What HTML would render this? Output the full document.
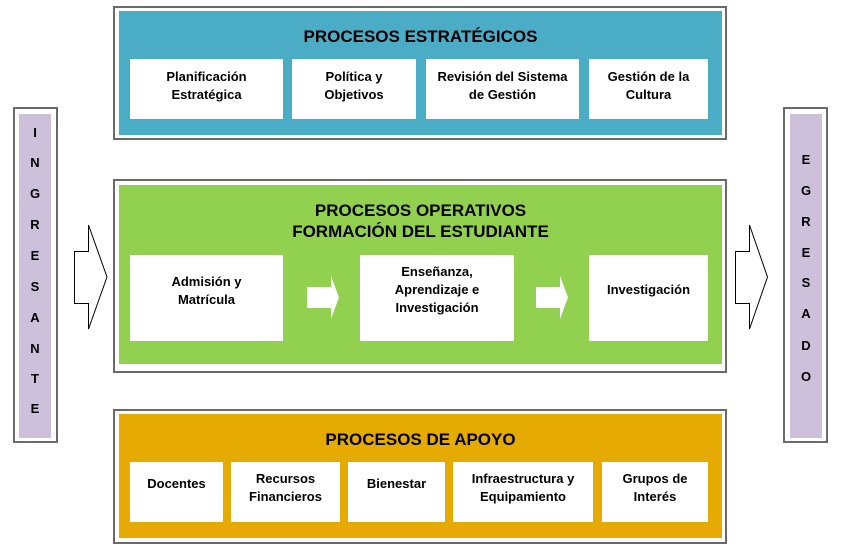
<!DOCTYPE html>
<html><head><meta charset="utf-8">
<style>
*{margin:0;padding:0;box-sizing:border-box}
html,body{width:843px;height:559px;background:#fff;overflow:hidden}
body{position:relative;font-family:"Liberation Sans",Arial,sans-serif;font-weight:bold;color:#000}
.a{position:absolute}
.frame{position:absolute;border:2px solid #6a6a6a;background:#fff}
.fill{position:absolute}
.box{position:absolute;background:#fff;text-align:center;font-size:13px;line-height:18px}
.title{position:absolute;left:119px;width:603px;text-align:center;font-size:17px;line-height:20px}
.lt{position:absolute;width:20px;text-align:center;font-size:13px;line-height:14px}
</style></head><body>

<!-- Top -->
<div class="frame" style="left:113px;top:6px;width:614px;height:134px"></div>
<div class="fill" style="left:119px;top:11px;width:603px;height:124px;background:#4BACC6"></div>
<div class="title" style="top:27px">PROCESOS ESTRATÉGICOS</div>
<div class="box" style="left:130px;top:59px;width:153px;height:60px;padding-top:9px">Planificación<br>Estratégica</div>
<div class="box" style="left:292px;top:59px;width:124px;height:60px;padding-top:9px">Política y<br>Objetivos</div>
<div class="box" style="left:426px;top:59px;width:153px;height:60px;padding-top:9px">Revisión del Sistema<br>de Gestión</div>
<div class="box" style="left:589px;top:59px;width:119px;height:60px;padding-top:9px">Gestión de la<br>Cultura</div>

<!-- Middle -->
<div class="frame" style="left:113px;top:179px;width:614px;height:194px"></div>
<div class="fill" style="left:119px;top:185px;width:603px;height:179px;background:#92D050"></div>
<div class="title" style="top:200px;line-height:21px">PROCESOS OPERATIVOS<br>FORMACIÓN DEL ESTUDIANTE</div>
<div class="box" style="left:130px;top:255px;width:153px;height:86px;padding-top:18px">Admisión y<br>Matrícula</div>
<div class="box" style="left:360px;top:255px;width:154px;height:86px;padding-top:8px">Enseñanza,<br>Aprendizaje e<br>Investigación</div>
<div class="box" style="left:589px;top:255px;width:119px;height:86px;padding-top:26px">Investigación</div>

<!-- Bottom -->
<div class="frame" style="left:113px;top:409px;width:614px;height:135px"></div>
<div class="fill" style="left:119px;top:414px;width:603px;height:124px;background:#E5AB03"></div>
<div class="title" style="top:430px">PROCESOS DE APOYO</div>
<div class="box" style="left:130px;top:462px;width:93px;height:60px;padding-top:13px">Docentes</div>
<div class="box" style="left:231px;top:462px;width:109px;height:60px;padding-top:8px">Recursos<br>Financieros</div>
<div class="box" style="left:348px;top:462px;width:97px;height:60px;padding-top:13px">Bienestar</div>
<div class="box" style="left:453px;top:462px;width:140px;height:60px;padding-top:8px">Infraestructura y<br>Equipamiento</div>
<div class="box" style="left:602px;top:462px;width:106px;height:60px;padding-top:8px">Grupos de<br>Interés</div>

<!-- Left / Right side bars -->
<div class="frame" style="left:13px;top:107px;width:45px;height:336px"></div>
<div class="fill" style="left:19px;top:114px;width:32px;height:324px;background:#CCC0DA"></div>
<div class="frame" style="left:783px;top:107px;width:45px;height:336px"></div>
<div class="fill" style="left:790px;top:114px;width:32px;height:324px;background:#CCC0DA"></div>

<div class="lt" style="left:25px;top:126px">I</div>
<div class="lt" style="left:25px;top:156px">N</div>
<div class="lt" style="left:25px;top:187px">G</div>
<div class="lt" style="left:25px;top:218px">R</div>
<div class="lt" style="left:25px;top:249px">E</div>
<div class="lt" style="left:25px;top:280px">S</div>
<div class="lt" style="left:25px;top:311px">A</div>
<div class="lt" style="left:25px;top:342px">N</div>
<div class="lt" style="left:25px;top:372px">T</div>
<div class="lt" style="left:25px;top:402px">E</div>

<div class="lt" style="left:796px;top:153px">E</div>
<div class="lt" style="left:796px;top:184px">G</div>
<div class="lt" style="left:796px;top:215px">R</div>
<div class="lt" style="left:796px;top:246px">E</div>
<div class="lt" style="left:796px;top:276px">S</div>
<div class="lt" style="left:796px;top:307px">A</div>
<div class="lt" style="left:796px;top:339px">D</div>
<div class="lt" style="left:796px;top:370px">O</div>

<svg class="a" style="left:0;top:0" width="843" height="559">
  <polygon points="74.5,251.5 88.5,251.5 88.5,225 107,277 88.5,329 88.5,303.5 74.5,303.5" fill="#fff" stroke="#000" stroke-width="1"/>
  <polygon points="735.5,251.5 749.5,251.5 749.5,225 767.5,277 749.5,329 749.5,303.5 735.5,303.5" fill="#fff" stroke="#000" stroke-width="1"/>
  <polygon points="307,287 331,287 331,276 339,297.5 331,319 331,308 307,308" fill="#fff"/>
  <polygon points="536,287 560,287 560,276 568,297.5 560,319 560,308 536,308" fill="#fff"/>
</svg>

</body></html>
